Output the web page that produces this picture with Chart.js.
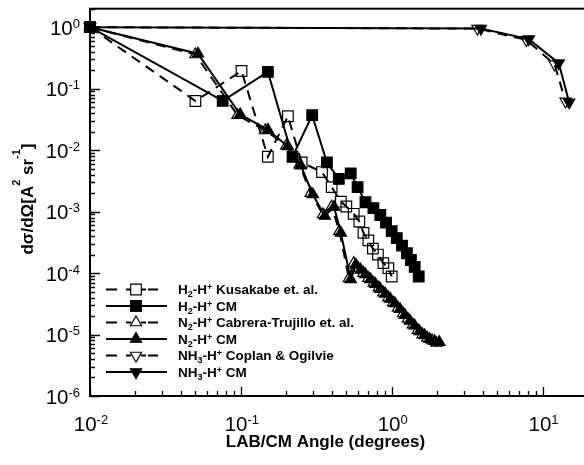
<!DOCTYPE html>
<html><head><meta charset="utf-8">
<script src="https://cdn.jsdelivr.net/npm/chart.js@4"></script>
<style>
html,body{margin:0;padding:0;background:#fff;overflow:hidden}
#wrap{width:584px;height:465px;overflow:hidden;position:relative;background:#fff}
canvas{display:block}
</style></head>
<body><div id="wrap"><canvas id="c" width="600" height="465"></canvas></div>
<script>
// ---- data ----
const h2KusX = [0.01, 0.05, 0.101, 0.151, 0.205, 0.253, 0.345, 0.40, 0.46, 0.50, 0.56, 0.61, 0.65, 0.70, 0.75, 0.81, 0.88, 0.95, 1.0];
const h2KusY = [1.0, 0.063, 0.194, 0.0078, 0.0356, 0.0063, 0.0044, 0.0025, 0.00145, 0.00121, 0.00092, 0.00069, 0.00045, 0.00034, 0.00025, 0.0002, 0.000145, 0.00012, 0.000088];

const h2CmX = [0.01, 0.0758, 0.151, 0.22, 0.297, 0.372, 0.446, 0.535, 0.594, 0.67, 0.756, 0.84, 0.917, 1.0, 1.08, 1.17, 1.26, 1.34, 1.42, 1.51];
const h2CmY = [1.0, 0.0634, 0.188, 0.0078, 0.037, 0.0063, 0.0034, 0.0042, 0.0025, 0.00142, 0.00114, 0.00088, 0.00066, 0.00048, 0.00037, 0.00028, 0.00021, 0.000163, 0.000126, 0.000088];

const n2CabX = [0.01, 0.05, 0.095, 0.145, 0.2, 0.245, 0.29, 0.35, 0.40, 0.45, 0.52, 0.56, 0.60, 0.65, 0.70, 0.76, 0.82, 0.88, 0.95, 1.02, 1.10, 1.19, 1.28, 1.38, 1.49, 1.60, 1.72, 1.85, 1.98];
const n2CabY = [1.0, 0.36, 0.037, 0.021, 0.0118, 0.0058, 0.002, 0.0009, 0.0012, 0.00048, 0.000082, 1.45e-4, 1.2e-4, 1.0e-4, 8.3e-5, 6.9e-5, 5.8e-5, 4.8e-5, 4.0e-5, 3.3e-5, 2.7e-5, 2.2e-5, 1.8e-5, 1.45e-5, 1.18e-5, 1.0e-5, 8.8e-6, 8.0e-6, 7.3e-6];

const n2CmX = [0.01, 0.052, 0.099, 0.151, 0.205, 0.25, 0.30, 0.36, 0.415, 0.46, 0.535, 0.577, 0.622, 0.670, 0.723, 0.779, 0.840, 0.906, 0.977, 1.05, 1.135, 1.22, 1.32, 1.42, 1.53, 1.65, 1.78, 1.92, 2.07];
const n2CmY = [1.0, 0.37, 0.038, 0.0214, 0.0115, 0.0056, 0.0019, 0.00085, 0.00119, 0.00045, 0.000079, 1.36e-4, 1.13e-4, 9.5e-5, 7.9e-5, 6.6e-5, 5.5e-5, 4.6e-5, 3.8e-5, 3.2e-5, 2.58e-5, 2.07e-5, 1.67e-5, 1.39e-5, 1.12e-5, 9.7e-6, 8.4e-6, 7.8e-6, 7.5e-6];

const nh3CopX = [0.01, 3.7, 7.8, 12.0, 14.2];
const nh3CopY = [1.0, 0.95, 0.62, 0.25, 0.062];

const nh3CmX = [0.01, 3.9, 8.1, 12.8, 15.0];
const nh3CmY = [1.0, 0.95, 0.64, 0.26, 0.06];

// tick labels
const xTickValues = [0.01, 0.1, 1, 10];
const xTickExp = ['-2', '-1', '0', '1'];
const yTickValues = [1, 0.1, 0.01, 0.001, 1e-4, 1e-5, 1e-6];
const yTickExp = ['0', '-1', '-2', '-3', '-4', '-5', '-6'];

// legend labels (rich text segments)
const legendLabels = [
  [{t:'H'},{t:'2',sub:1},{t:'-H'},{t:'+',sup:1},{t:' Kusakabe et. al.'}],
  [{t:'H'},{t:'2',sub:1},{t:'-H'},{t:'+',sup:1},{t:' CM'}],
  [{t:'N'},{t:'2',sub:1},{t:'-H'},{t:'+',sup:1},{t:' Cabrera-Trujillo et. al.'}],
  [{t:'N'},{t:'2',sub:1},{t:'-H'},{t:'+',sup:1},{t:' CM'}],
  [{t:'NH'},{t:'3',sub:1},{t:'-H'},{t:'+',sup:1},{t:' Coplan & Ogilvie'}],
  [{t:'NH'},{t:'3',sub:1},{t:'-H'},{t:'+',sup:1},{t:' CM'}]
];
const xTitle = 'LAB/CM Angle (degrees)';
const yTitle = [{t:'dσ/dΩ[A'},{t:'2',sup:1},{t:' sr'},{t:'-1',sup:1},{t:']'}];

const FONT = '"Liberation Sans", Arial, Helvetica, sans-serif';
const DASH = [10, 7];

function pts(xs, ys){ return xs.map((x,i)=>({x:x, y:ys[i]})); }

const styles = [
  {xs:h2KusX, ys:h2KusY, dashed:true,  shape:'rect',     rot:0,   filled:false, r:7.5},
  {xs:h2CmX,  ys:h2CmY,  dashed:false, shape:'rect',     rot:0,   filled:true,  r:7.5},
  {xs:n2CabX, ys:n2CabY, dashed:true,  shape:'triangle', rot:0,   filled:false, r:6.5},
  {xs:n2CmX,  ys:n2CmY,  dashed:false, shape:'triangle', rot:0,   filled:true,  r:6.5},
  {xs:nh3CopX,ys:nh3CopY,dashed:true,  shape:'triangle', rot:180, filled:false, r:6.5},
  {xs:nh3CmX, ys:nh3CmY, dashed:false, shape:'triangle', rot:180, filled:true,  r:6.5}
];

const datasets = styles.map((s,i)=>({
  data: pts(s.xs, s.ys),
  showLine: true,
  borderColor: '#000',
  borderWidth: 2,
  borderDash: s.dashed ? DASH : [],
  tension: 0,
  fill: false,
  clip: false,
  pointStyle: s.shape,
  rotation: s.rot,
  pointRadius: s.r,
  pointHoverRadius: s.r,
  pointBackgroundColor: s.filled ? '#000' : 'rgba(0,0,0,0)',
  pointBorderColor: '#000',
  pointBorderWidth: 1.2,
  order: 6 - i
}));

function drawRich(ctx, segs, x, y, size, bold, subDy, supDy, smallSize){
  for (const s of segs){
    const fs = (s.sub||s.sup) ? smallSize : size;
    ctx.font = (bold?'bold ':'') + fs + 'px ' + FONT;
    const dy = s.sub ? subDy : (s.sup ? -supDy : 0);
    ctx.fillText(s.t, x, y + dy);
    x += ctx.measureText(s.t).width;
  }
  return x;
}
function richWidth(ctx, segs, size, bold, smallSize){
  let w = 0;
  for (const s of segs){
    const fs = (s.sub||s.sup) ? smallSize : size;
    ctx.font = (bold?'bold ':'') + fs + 'px ' + FONT;
    w += ctx.measureText(s.t).width;
  }
  return w;
}
function marker(ctx, shape, rot, filled, r, x, y){
  ctx.save();
  ctx.beginPath();
  if (shape === 'rect'){
    const h = r * Math.SQRT1_2;
    ctx.rect(x-h, y-h, 2*h, 2*h);
  } else {
    let a = rot * Math.PI/180;
    ctx.moveTo(x + Math.sin(a)*r, y - Math.cos(a)*r);
    a += 2*Math.PI/3;
    ctx.lineTo(x + Math.sin(a)*r, y - Math.cos(a)*r);
    a += 2*Math.PI/3;
    ctx.lineTo(x + Math.sin(a)*r, y - Math.cos(a)*r);
    ctx.closePath();
  }
  ctx.setLineDash([]);
  ctx.lineWidth = 1.2;
  ctx.strokeStyle = '#000';
  if (filled){ ctx.fillStyle = '#000'; ctx.fill(); }
  ctx.stroke();
  ctx.restore();
}

const decorPlugin = {
  id: 'decor',
  afterDraw(chart){
    const ctx = chart.ctx;
    const ca = chart.chartArea;
    const xs = chart.scales.x, ys = chart.scales.y;
    ctx.save();
    ctx.strokeStyle = '#000';
    ctx.fillStyle = '#000';
    ctx.setLineDash([]);
    // frame
    ctx.lineWidth = 2;
    ctx.strokeRect(ca.left, ca.top, ca.right - ca.left, ca.bottom - ca.top);
    // ticks
    ctx.lineWidth = 1.3;
    ctx.beginPath();
    for (let e = -2; e <= 1; e++){
      for (let k = 1; k <= 9; k++){
        const v = k * Math.pow(10, e);
        if (v < xs.min || v > xs.max) continue;
        const px = Math.round(xs.getPixelForValue(v)) + 0.5;
        const len = k === 1 ? 9 : 5;
        ctx.moveTo(px, ca.bottom); ctx.lineTo(px, ca.bottom - len);
      }
    }
    for (let e = -6; e <= 0; e++){
      for (let k = 1; k <= 9; k++){
        const v = k * Math.pow(10, e);
        if (v < ys.min || v > ys.max) continue;
        const py = Math.round(ys.getPixelForValue(v)) + 0.5;
        const len = k === 1 ? 10 : 5;
        ctx.moveTo(ca.left, py); ctx.lineTo(ca.left + len, py);
      }
    }
    ctx.stroke();
    // tick labels
    ctx.textBaseline = 'alphabetic';
    ctx.textAlign = 'left';
    const big = 20.5, small = 13;
    xTickValues.forEach((v,i)=>{
      const segs = [{t:'10'},{t:xTickExp[i],sup:1}];
      const w = richWidth(ctx, segs, big, false, small);
      const px = xs.getPixelForValue(v);
      drawRich(ctx, segs, px - w/2 + 1, 431, big, false, 0, 7, small);
    });
    yTickValues.forEach((v,i)=>{
      const segs = [{t:'10'},{t:yTickExp[i],sup:1}];
      const w = richWidth(ctx, segs, big, false, small);
      const py = ys.getPixelForValue(v);
      drawRich(ctx, segs, 80 - w, py + 7.5, big, false, 0, 7, small);
    });
    // x title
    ctx.font = 'bold 17px ' + FONT;
    ctx.textAlign = 'center';
    ctx.fillText(xTitle, 325.5, 447);
    ctx.textAlign = 'left';
    // y title
    ctx.save();
    ctx.translate(33, 199);
    ctx.rotate(-Math.PI/2);
    const wy = richWidth(ctx, yTitle, 17, true, 11);
    drawRich(ctx, yTitle, -wy/2, 0, 17, true, 0, 13, 11);
    ctx.restore();
    // legend
    const rowY = [289.5, 306, 322.5, 339, 355.5, 372];
    styles.forEach((s,i)=>{
      const y = rowY[i];
      ctx.save();
      ctx.lineWidth = 2;
      ctx.strokeStyle = '#000';
      ctx.beginPath();
      if (s.dashed){
        ctx.moveTo(106, y); ctx.lineTo(117, y);
        ctx.moveTo(126, y); ctx.lineTo(131, y);
        ctx.moveTo(141, y); ctx.lineTo(146, y);
        ctx.moveTo(148, y); ctx.lineTo(158, y);
      } else {
        ctx.moveTo(106, y); ctx.lineTo(167, y);
      }
      ctx.stroke();
      ctx.restore();
      marker(ctx, s.shape, s.rot, s.filled, s.r, 136, y);
      ctx.fillStyle = '#000';
      drawRich(ctx, legendLabels[i], 178, y + 4.5, 13.5, true, 3, 4, 9);
    });
    ctx.restore();
  }
};

new Chart(document.getElementById('c'), {
  type: 'scatter',
  data: { datasets: datasets },
  options: {
    responsive: false,
    animation: false,
    events: [],
    layout: { padding: { left: 82, right: 12, top: 2.5, bottom: 61 } },
    plugins: { legend: { display: false }, tooltip: { enabled: false } },
    scales: {
      x: {
        type: 'logarithmic', min: 0.01, max: 20,
        grid: { display: false }, border: { display: false },
        ticks: { display: false }, title: { display: false }
      },
      y: {
        type: 'logarithmic', min: 1e-6, max: 2,
        grid: { display: false }, border: { display: false },
        ticks: { display: false }, title: { display: false }
      }
    }
  },
  plugins: [decorPlugin]
});
</script>
</body></html>
